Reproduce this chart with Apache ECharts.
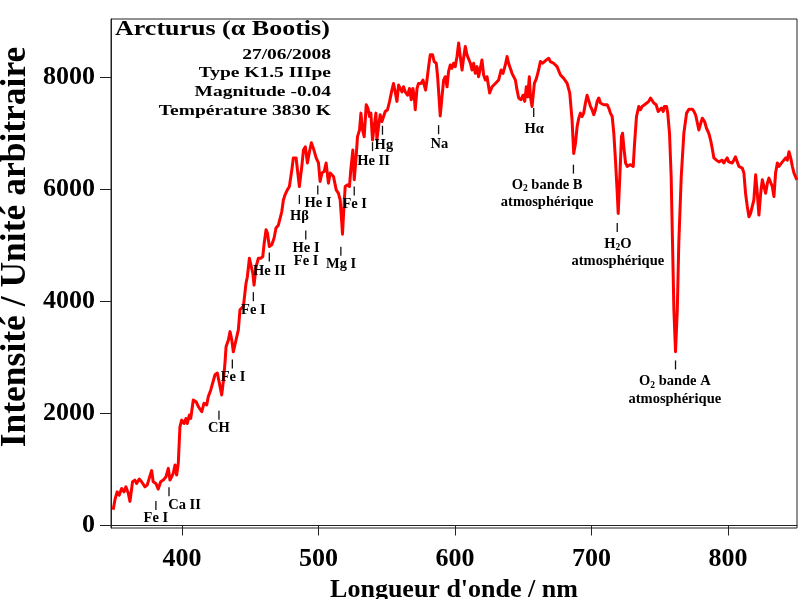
<!DOCTYPE html>
<html><head><meta charset="utf-8">
<script src="https://cdn.jsdelivr.net/npm/echarts@6/dist/echarts.min.js"></script>
<style>html,body{margin:0;padding:0;background:#fff}#c{width:800px;height:599px}</style>
</head><body><div id="c"></div>
<script>
// ---------- DATA ----------
const wavelengths = [349.6,350.9,352.5,354.0,355.8,357.5,358.9,360.6,361.9,363.8,365.5,366.8,368.7,370.4,371.6,372.9,374.5,376.0,377.8,378.9,380.9,382.6,384.4,386.3,388.3,390.0,391.2,392.4,393.6,394.9,396.1,397.3,398.5,399.8,401.5,402.9,403.9,405.4,406.4,408.3,410.3,412.0,414.5,416.1,418.1,419.3,421.1,422.5,424.2,425.9,427.4,429.1,430.3,431.5,432.3,434.0,435.2,436.5,437.6,439.6,441.3,442.5,443.8,445.0,446.9,447.9,449.4,450.4,451.9,452.8,454.3,456.0,457.7,459.2,460.1,461.6,462.6,464.0,465.8,467.5,468.9,470.6,471.9,473.1,474.3,475.5,477.2,478.7,480.5,481.6,483.6,484.6,486.0,487.8,489.0,490.4,491.9,493.4,494.8,496.3,498.3,500.0,501.2,502.5,504.2,505.6,507.3,508.6,511.0,513.0,514.6,515.9,517.1,517.6,518.8,519.6,521.2,522.7,523.7,525.2,526.2,527.6,528.6,530.1,531.1,532.3,533.5,535.0,536.2,537.4,538.4,539.6,540.8,542.1,542.8,544.0,545.2,546.5,547.6,548.9,550.6,552.1,553.8,555.0,556.2,557.5,558.7,559.9,561.2,562.3,563.6,565.3,566.7,568.0,569.2,570.2,570.9,572.2,573.3,575.1,576.6,577.5,578.5,579.5,580.7,581.9,583.6,584.8,586.3,587.3,588.3,589.2,590.5,591.7,592.9,594.2,595.3,596.6,597.8,599.0,600.2,601.5,602.7,603.9,605.2,606.3,607.6,608.8,610.0,611.3,612.5,613.7,614.9,616.2,617.3,618.6,619.8,621.0,622.3,623.5,625.4,627.2,629.6,632.0,633.8,635.2,636.9,638.2,639.3,640.6,641.8,643.0,644.3,645.5,646.7,648.4,649.9,651.1,652.3,653.3,654.5,655.3,656.5,658.2,659.7,661.3,662.6,664.3,665.5,667.0,668.7,669.9,671.2,672.3,673.6,674.8,677.3,679.7,682.2,684.1,685.8,687.0,688.3,689.5,690.7,691.9,693.2,694.3,695.6,696.8,698.0,699.3,700.5,701.7,702.9,704.2,705.4,706.6,709.0,711.5,712.7,713.9,715.2,716.4,717.6,718.9,719.6,720.8,722.0,722.8,723.7,725.0,726.2,728.6,730.6,731.6,733.0,734.7,735.9,737.2,738.9,740.3,742.0,743.3,744.5,745.7,747.4,748.9,750.1,751.3,752.6,753.5,755.0,755.9,757.2,758.4,759.4,760.4,761.6,762.9,764.0,765.8,767.7,769.7,771.4,773.9,775.1,776.3,777.5,778.7,780.0,781.2,782.9,784.3,786.0,787.3,788.5,789.7,791.6,793.4,794.6,795.8,797.0,798.3,799.5,800.6,801.9,803.1,804.3,805.5,806.8,808.0,809.2,810.5,811.7,812.9,814.2,815.4,816.6,817.9,819.0,820.3,821.5,822.7,824.0,825.2,826.4,827.6,828.9,830.0,831.3,832.5,833.7,834.9,836.2,837.4,838.6,839.9,841.0,842.3,843.5,844.7,846.0,847.2,848.4,850.5];
const intensities = [280,460,600,540,660,600,690,580,430,780,810,750,830,780,810,690,720,840,980,780,750,650,780,810,870,1020,810,870,930,1080,900,1110,1760,1880,1820,1910,1820,1970,1910,2240,2210,2120,2030,2180,2150,2300,2420,2450,2690,2720,2540,2330,2570,2900,3190,3310,3460,3310,3100,3310,3490,3850,3880,3910,4320,4440,4770,4800,4500,4290,4620,4770,4770,4800,5010,5280,5220,4980,5010,5130,5310,5360,5480,5600,5810,5900,5990,6050,6350,6560,6560,6350,6050,6410,6700,6760,6470,6670,6830,6730,6560,6470,6140,6290,6320,6470,6110,6290,6230,5990,5930,5810,5390,5200,5750,6050,6080,6050,6350,6700,6170,6580,6940,7060,7360,7060,6940,7510,7450,7300,7360,6880,7120,7360,6880,7120,7330,7210,7240,7390,7420,7570,7770,7890,7740,7570,7860,7830,7740,7830,7740,7680,7800,7600,7800,7650,7420,7800,7890,7890,7950,7860,7770,7950,8190,8400,8400,8280,8250,8010,7650,7310,7650,7950,8010,7830,8100,8220,8160,8250,8190,8370,8610,8370,8130,8340,8550,8400,8370,8250,8130,8250,8070,8190,8010,8160,8310,8040,7950,8010,7720,7830,7890,7950,8130,8070,8220,8370,8250,8220,8070,8100,7950,7770,7630,7600,7680,7570,7830,7650,8010,7650,7480,7890,7980,8130,8280,8250,8280,8310,8340,8280,8310,8250,8280,8190,8040,7980,7890,7720,7240,6640,6820,7120,7270,7360,7300,7360,7540,7680,7650,7480,7420,7330,7420,7570,7630,7540,7510,7510,7450,7360,7300,7000,6520,5930,5570,6230,6940,7000,6760,6470,6410,6440,6410,6820,7300,7480,7420,7480,7510,7540,7570,7630,7600,7540,7510,7390,7360,7450,7390,7480,7480,7360,7000,6230,5040,3850,3100,3850,5040,6230,7000,7360,7430,7430,7390,7330,7360,7060,7090,7270,7210,7090,7000,6880,6730,6560,6520,6490,6470,6520,6470,6520,6560,6490,6520,6470,6520,6580,6490,6410,6440,6380,6290,5930,5690,5510,5570,5570,5810,6260,5930,5540,5930,6170,6050,5930,6110,6200,6170,6050,5870,6290,6470,6410,6440,6490,6520,6560,6520,6670,6560,6410,6290,6170];
const xTicks = [400, 500, 600, 700, 800];
const yTicks = [0, 2000, 4000, 6000, 8000];
const annotNames = ['Fe I','Ca II','CH','Fe I','Fe I','He II','Hβ','He I','He I\nFe I','Mg I','Fe I','He II','Hg','Na','Hα','O2 bande B\natmosphérique','H2O\natmosphérique','O2 bande A\natmosphérique'];
const annotWl = [380.9,390.5,427.1,436.9,452.3,464.0,486.0,499.5,490.7,516.4,526.2,539.6,546.9,588.0,657.7,686.8,718.9,761.6];
const annotY = [357,603,1969,2883,4084,4793,5819,5989,5185,4896,5971,6762,7054,7065,7369,6360,5319,2865];
const infoTitle = 'Arcturus (α Bootis)';
const infoLines = ['27/06/2008', 'Type K1.5 IIIpe', 'Magnitude -0.04', 'Température 3830 K'];
const xName = "Longueur d'onde / nm";
const yName = 'Intensité / Unité arbitraire';

// ---------- LAYOUT (pixels) ----------
const labelOffsets = [[0,12.5],[15.5,13.3],[0,13],[0.7,13],[0,13.3],[0,14],[0,17],[0.3,13.3],[0.3,19.7],[0.3,13],[0.5,13],[1,14.3],[1.4,15.4],[0.7,14.3],[0.4,16.3],[-26.3,24.6],[0.6,25.3],[-0.7,25.5]];
const labelLineHeights = [15,15,15,15,15,15,15,15,12.7,15,15,15,15,15,15,17.6,17.6,17.6];
const infoLineY = [55, 73.5, 92, 111];

const SERIF = '"Liberation Serif", "Times New Roman", serif';
const chart = echarts.init(document.getElementById('c'), null, {renderer: 'canvas'});

const fmtSub = s => s.split('\n').map(l => '{n|' + l.replace(/([A-Z])2/g, '$1}{s|2}{n|') + '}').join('\n');

const graphics = [{
  type: 'text', x: 115, y: 29.5, scaleX: 1.3, z: 10,
  style: {text: infoTitle, font: 'bold 20px ' + SERIF, fill: '#000', textAlign: 'left', textVerticalAlign: 'middle', align: 'left', verticalAlign: 'middle'}
}].concat(infoLines.map((t, i) => ({
  type: 'text', x: 331, y: infoLineY[i], scaleX: 1.3, z: 10,
  style: {text: t, font: 'bold 15px ' + SERIF, fill: '#000', textAlign: 'right', textVerticalAlign: 'middle', align: 'right', verticalAlign: 'middle'}
}))).concat([{
  type: 'text', x: 16, y: 247, rotation: Math.PI / 2, z: 10,
  style: {text: yName, font: 'bold 35.5px ' + SERIF, fill: '#000', textAlign: 'center', textVerticalAlign: 'middle', align: 'center', verticalAlign: 'middle'}
}]);

chart.setOption({
  animation: false,
  backgroundColor: '#fff',
  grid: {left: 111, top: 19, right: 3, bottom: 71, containLabel: false, outerBoundsMode: 'none', show: true, borderColor: '#222', borderWidth: 1, backgroundColor: 'transparent'},
  xAxis: {
    type: 'value', min: 348, max: 850.6,
    axisLine: {show: true, lineStyle: {color: '#222', width: 1}},
    splitLine: {show: false},
    axisTick: {show: true, inside: false, length: 10, customValues: xTicks, lineStyle: {color: '#222', width: 1}},
    axisLabel: {customValues: xTicks, formatter: v => String(v), fontFamily: SERIF, fontWeight: 'bold', fontSize: 26, color: '#000', margin: 18},
    name: xName, nameLocation: 'middle', nameGap: 41,
    nameTextStyle: {fontFamily: SERIF, fontWeight: 'bold', fontSize: 26, color: '#000'}
  },
  yAxis: {
    type: 'value', min: -45, max: 9040,
    axisLine: {show: true, lineStyle: {color: '#222', width: 1}},
    splitLine: {show: false},
    axisTick: {show: true, inside: false, length: 11, customValues: yTicks, lineStyle: {color: '#222', width: 1}},
    axisLabel: {customValues: yTicks, formatter: v => String(v), fontFamily: SERIF, fontWeight: 'bold', fontSize: 26, color: '#000', margin: 16}
  },
  graphic: graphics,
  series: [
    {
      type: 'line', data: wavelengths.map((w, i) => [w, intensities[i]]),
      showSymbol: false, symbol: 'none', smooth: false, clip: true,
      lineStyle: {color: '#ff0000', width: 3, join: 'round'}, itemStyle: {color: '#ff0000'}, z: 3
    },
    {
      type: 'scatter', symbol: 'rect', symbolSize: [1.3, 9], z: 4,
      itemStyle: {color: '#111', opacity: 1},
      data: annotWl.map((w, i) => ({
        value: [w, annotY[i]], name: annotNames[i],
        label: {offset: labelOffsets[i], rich: {n: {lineHeight: labelLineHeights[i]}, s: {lineHeight: labelLineHeights[i]}}}
      })),
      label: {
        show: true, position: 'inside', align: 'center', verticalAlign: 'middle',
        formatter: p => fmtSub(p.name),
        fontFamily: SERIF, fontWeight: 'bold', fontSize: 14.5, color: '#000',
        rich: {
          n: {fontFamily: SERIF, fontWeight: 'bold', fontSize: 14.5, color: '#000'},
          s: {fontFamily: SERIF, fontWeight: 'bold', fontSize: 9.5, color: '#000', verticalAlign: 'bottom', padding: [6, 0, 0, 0]}
        }
      },
      emphasis: {disabled: true}
    }
  ]
});
</script></body></html>
